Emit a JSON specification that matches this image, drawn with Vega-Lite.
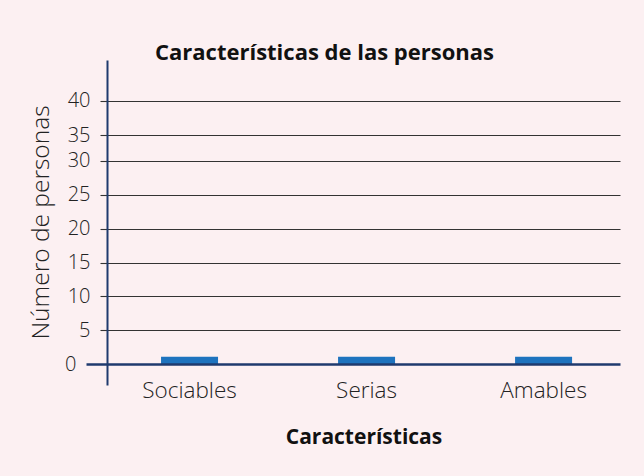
{
  "$schema": "https://vega.github.io/schema/vega-lite/v6.json",
  "width": 513,
  "height": 325,
  "autosize": {"type": "none"},
  "padding": {"left": 107, "top": 60, "right": 24, "bottom": 91},
  "background": "#fcf0f2",
  "title": {
    "text": "Características de las personas",
    "anchor": "middle",
    "frame": "group",
    "dx": -39,
    "dy": 23,
    "offset": 1,
    "baseline": "alphabetic",
    "font": "Open Sans",
    "fontSize": 22,
    "fontWeight": "bold",
    "color": "#111111"
  },
  "config": {
    "view": {"stroke": null},
    "font": "Open Sans"
  },
  "data": {
    "values": [
      {"caracteristica": "Sociables", "personas": 1.1},
      {"caracteristica": "Serias", "personas": 1.1},
      {"caracteristica": "Amables", "personas": 1.1}
    ]
  },
  "mark": {"type": "bar", "color": "#1e73be"},
  "encoding": {
    "x": {
      "field": "caracteristica",
      "type": "nominal",
      "sort": null,
      "scale": {"paddingInner": 0.678, "paddingOuter": 0.288, "align": 0.53},
      "axis": {
        "title": "Características",
        "domain": false,
        "ticks": false,
        "labelAngle": 0,
        "labelFont": "Open Sans",
        "labelFontSize": 22.5,
        "labelFontWeight": 300,
        "labelColor": "#222222",
        "labelBaseline": "top",
        "labelPadding": -6,
        "titleFont": "Open Sans",
        "titleFontSize": 21,
        "titleFontWeight": "bold",
        "titleColor": "#111111",
        "titleBaseline": "alphabetic",
        "titleY": 58
      }
    },
    "y": {
      "field": "personas",
      "type": "quantitative",
      "scale": {
        "domain": [-3.05, 0, 30, 35, 40, 46],
        "range": [325, 304.3, 100.7, 75.3, 40.7, 0],
        "nice": false,
        "zero": false
      },
      "axis": {
        "title": "Número de personas",
        "values": [0, 5, 10, 15, 20, 25, 30, 35, 40],
        "zindex": 1,
        "domainColor": "#1f3a6e",
        "domainWidth": 2,
        "grid": true,
        "gridColor": {"condition": {"test": "datum.value === 0", "value": "#1f3a6e"}, "value": "#333333"},
        "gridWidth": {"condition": {"test": "datum.value === 0", "value": 2.5}, "value": 1.1},
        "gridOpacity": 1,
        "ticks": true,
        "tickSize": {"condition": {"test": "datum.value === 0", "value": 21}, "value": 7},
        "tickColor": {"condition": {"test": "datum.value === 0", "value": "#1f3a6e"}, "value": "#333333"},
        "tickWidth": {"condition": {"test": "datum.value === 0", "value": 2.5}, "value": 1.1},
        "labelPadding": 10,
        "labelFont": "Open Sans",
        "labelFontSize": 20,
        "labelFontWeight": 300,
        "labelColor": "#222222",
        "labelBaseline": "middle",
        "titleFont": "Open Sans",
        "titleFontSize": 24.5,
        "titleFontWeight": 300,
        "titleColor": "#222222",
        "titleBaseline": "alphabetic",
        "titleX": -59,
        "titleY": 162
      }
    },
    "y2": {"datum": 0}
  }
}
